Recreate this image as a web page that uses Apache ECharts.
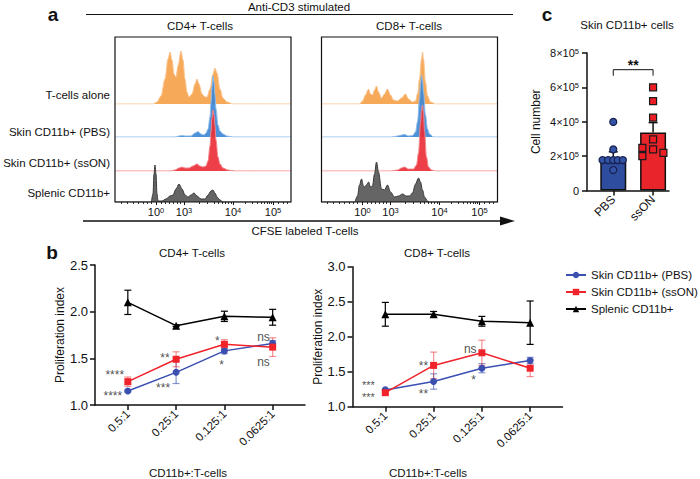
<!DOCTYPE html>
<html>
<head>
<meta charset="utf-8">
<script src="https://cdn.jsdelivr.net/npm/echarts@6/dist/echarts.min.js"></script>
<style>
html, body { margin: 0; padding: 0; background: #fff; }
#main { width: 700px; height: 479px; }
</style>
</head>
<body>
<div id="main"></div>
<script>
var FONT = 'Arial, "Liberation Sans", Helvetica, sans-serif';

// ---- panel a : CFSE histograms (display channel 0-176, height in scaled counts) ----
var rowNames = ['T-cells alone', 'Skin CD11b+ (PBS)', 'Skin CD11b+ (ssON)', 'Splenic CD11b+'];
var decadeChannels = [41, 69, 118, 158];
var decadeExp = ['0', '3', '4', '5'];
var minorChannels = [6, 12, 18, 23, 28, 32, 36, 46, 50, 54, 58, 62, 65, 84, 92, 99, 103, 107, 110, 113, 116, 130, 137, 142, 146, 149, 152, 154, 156, 163, 168, 172];

var cd4Alone = [[0,0],[38,0],[42,2],[46,8],[50,25],[53,45],[55,52],[57,44],[59,30],[61,27],[63,38],[66,53],[68,44],[70,25],[72,12],[74,7],[77,10],[80,20],[82,25],[84,20],[87,10],[90,7],[92,7],[95,15],[98,30],[100,36],[102,31],[105,15],[108,6],[112,2],[118,0],[176,0]];
var cd4Pbs = [[0,0],[60,0],[64,1],[67,1.5],[70,1],[76,1],[80,4],[83,5.5],[86,3],[89,2],[91,4],[93,8],[95,20],[96,35],[97,50],[98,61],[99,55],[100,42],[101,28],[103,12],[105,6],[108,3],[112,1],[118,0],[176,0]];
var cd4Sson = [[0,0],[55,0],[60,1],[64,3],[67,4],[70,3],[74,3],[78,5],[82,7],[85,5],[88,4],[91,5],[93,10],[95,25],[96,40],[97,53],[98,61],[99,56],[100,45],[101,31],[103,14],[105,7],[108,3],[113,1],[120,0],[176,0]];
var cd4Splenic = [[0,0],[36,0],[38,8],[39,28],[40,37],[41,28],[42,8],[43,1],[47,1],[51,3],[55,6],[58,7],[61,13],[64,18],[67,13],[70,7],[73,5],[76,7],[79,9],[82,6],[86,3],[90,3],[93,7],[96,11],[98,12],[100,9],[102,5],[105,2],[108,0],[176,0]];

var cd8Alone = [[0,0],[38,0],[41,3],[44,9],[47,15],[49,10],[51,9],[53,14],[55,18],[57,12],[60,6],[63,10],[66,15],[69,9],[72,4],[76,3],[80,6],[84,10],[87,5],[91,2],[94,3],[96,10],[98,25],[100,45],[101,52],[102,45],[104,22],[106,8],[109,2],[114,0],[176,0]];
var cd8Pbs = [[0,0],[70,0],[76,1],[80,2],[83,2.5],[87,1],[91,1.5],[94,5],[96,15],[98,38],[99,52],[100,62],[101,57],[102,45],[104,22],[106,8],[108,3],[112,0],[176,0]];
var cd8Sson = [[0,0],[70,0],[76,1],[80,3],[83,4],[87,2],[92,2],[95,6],[97,18],[99,48],[100,60],[101,66],[102,58],[103,40],[105,14],[107,4],[110,1],[114,0],[176,0]];
var cd8Splenic = [[0,0],[33,0],[36,6],[38,17],[40,23],[42,16],[43,15],[45,17],[47,20],[49,15],[51,16],[53,28],[55,40],[57,30],[60,13],[63,12],[66,17],[69,10],[73,5],[77,6],[81,8],[85,6],[88,6],[91,9],[94,18],[97,24],[99,20],[101,12],[103,5],[106,1],[108,0],[176,0]];

// ---- panel b : proliferation index (mean, SEM) ----
var ratios = ['0.5:1', '0.25:1', '0.125:1', '0.0625:1'];
var groupNames = ['Skin CD11b+ (PBS)', 'Skin CD11b+ (ssON)', 'Splenic CD11b+'];
var cd4PbsMean = [1.15, 1.35, 1.58, 1.66];
var cd4PbsSem = [0.01, 0.12, 0.03, 0.03];
var cd4SsonMean = [1.25, 1.49, 1.65, 1.62];
var cd4SsonSem = [0.05, 0.08, 0.05, 0.10];
var cd4SplMean = [2.10, 1.85, 1.95, 1.94];
var cd4SplSem = [0.13, 0.01, 0.055, 0.085];
var cd8PbsMean = [1.24, 1.36, 1.55, 1.66];
var cd8PbsSem = [0.01, 0.11, 0.065, 0.045];
var cd8SsonMean = [1.20, 1.59, 1.77, 1.55];
var cd8SsonSem = [0.01, 0.19, 0.18, 0.12];
var cd8SplMean = [2.32, 2.32, 2.22, 2.20];
var cd8SplSem = [0.17, 0.04, 0.07, 0.31];
var cd4Stars = [[-0.27, 1.357, '****'], [-0.31, 1.129, '****'], [0.77, 1.536, '**'], [0.73, 1.214, '***'], [1.855, 1.718, '*'], [1.94, 1.464, '*'], [2.81, 1.729, 'ns'], [2.81, 1.464, 'ns']];
var cd8Stars = [[-0.35, 1.262, '***\n***'], [0.79, 1.62, '**'], [0.79, 1.23, '**'], [1.76, 1.83, 'ns'], [1.83, 1.42, '*']];

// ---- panel c : cell numbers ----
var cGroups = ['PBS', 'ssON'];
var cellMean = [1.92e5, 3.37e5];
var cellSem = [0.33e5, 0.58e5];
var pbsPoints = [[0, 3.99e5], [0, 2.39e5], [-0.27, 1.77e5], [-0.13, 1.77e5], [0, 1.77e5], [0.11, 1.77e5], [0.24, 1.77e5], [0, 1.19e5]];
var ssonPoints = [[0, 6.0e5], [0, 5.2e5], [0, 4.24e5], [0, 2.97e5], [-0.27, 2.48e5], [0, 2.39e5], [0.26, 2.19e5], [-0.27, 2.0e5]];
var sigBracket = 7.03e5;

var chart = echarts.init(document.getElementById('main'), null, { renderer: 'svg' });

var grids = [], xAxes = [], yAxes = [], series = [];

var supRich = {
	b: { fontSize: 11, fontFamily: FONT, color: '#111' },
	s: { fontSize: 7.5, fontFamily: FONT, color: '#111', verticalAlign: 'top' }
};

// histogram panels
var histColors = ['#f6a24c', '#3e88d6', '#ec2f37', '#585858'];
var histLines = ['#f9c590', '#91bce9', '#f2878c', '#3a3a3a'];
var baselines = [104, 137, 171, 202];
var histPanels = [
	{ left: 115, curves: [cd4Alone, cd4Pbs, cd4Sson, cd4Splenic] },
	{ left: 321.5, curves: [cd8Alone, cd8Pbs, cd8Sson, cd8Splenic] }
];

histPanels.forEach(function(p) {
	grids.push({ left: p.left, top: 37, width: 176, height: 165, show: true, borderColor: '#111', borderWidth: 1.2, z: 10 });
	var gi = grids.length - 1;
	xAxes.push({
		gridIndex: gi, type: 'value', min: 0, max: 176, position: 'bottom',
		axisLine: { show: false, onZero: false }, splitLine: { show: false },
		axisTick: { customValues: decadeChannels, length: 3, lineStyle: { color: '#111' } },
		axisLabel: {
			customValues: decadeChannels, margin: 4,
			formatter: function(v) { return '{b|10}{s|' + decadeExp[decadeChannels.indexOf(v)] + '}'; },
			rich: supRich
		}
	});
	xAxes.push({
		gridIndex: gi, type: 'value', min: 0, max: 176, position: 'bottom', offset: 0,
		axisLine: { show: false, onZero: false }, splitLine: { show: false },
		axisTick: { customValues: minorChannels, length: 2, lineStyle: { color: '#333' } },
		axisLabel: { show: false }
	});
	yAxes.push({ gridIndex: gi, type: 'value', min: 0, max: 1, show: false });

	p.curves.forEach(function(curve, r) {
		grids.push({ left: p.left, top: baselines[r] - 70, width: 176, height: 70 });
		var ri = grids.length - 1;
		xAxes.push({ gridIndex: ri, type: 'value', min: 0, max: 176, show: false });
		yAxes.push({ gridIndex: ri, type: 'value', min: 0, max: 70, show: false });
		series.push({
			type: 'line', xAxisIndex: xAxes.length - 1, yAxisIndex: yAxes.length - 1,
			data: curve, smooth: 0.35, smoothMonotone: 'x', symbol: 'none', silent: true, clip: true,
			lineStyle: { color: histLines[r], width: 1 },
			areaStyle: { color: histColors[r], opacity: 0.92 },
			z: 2 + r
		});
	});
});

// panel b
var lineColors = ['#3a4fb0', '#f0222a', '#000000'];
var errColors = ['rgba(58,79,176,0.6)', 'rgba(240,34,42,0.5)', '#000000'];
var symbols = ['circle', 'rect', 'triangle'];
var symSizes = [7, 7, 8];

function errSeries(xi, yi, means, sems, color, capOnly) {
	return {
		type: 'custom', xAxisIndex: xi, yAxisIndex: yi, silent: true, z: 1,
		data: means.map(function(m, i) { return [i, capOnly ? m : m - sems[i], m + sems[i]]; }),
		renderItem: function(params, api) {
			var lo = api.coord([api.value(0), api.value(1)]);
			var hi = api.coord([api.value(0), api.value(2)]);
			var w = capOnly ? 4.5 : 3.5;
			var kids = [
				{ type: 'line', shape: { x1: hi[0], y1: hi[1], x2: lo[0], y2: lo[1] }, style: { stroke: color, lineWidth: capOnly ? 1.5 : 1.2 } },
				{ type: 'line', shape: { x1: hi[0] - w, y1: hi[1], x2: hi[0] + w, y2: hi[1] }, style: { stroke: color, lineWidth: capOnly ? 1.5 : 1.2 } }
			];
			if (!capOnly) {
				kids.push({ type: 'line', shape: { x1: lo[0] - w, y1: lo[1], x2: lo[0] + w, y2: lo[1] }, style: { stroke: color, lineWidth: 1.2 } });
			}
			return { type: 'group', children: kids };
		}
	};
}

var bPanels = [
	{ left: 95, top: 265, max: 2.5, means: [cd4PbsMean, cd4SsonMean, cd4SplMean], sems: [cd4PbsSem, cd4SsonSem, cd4SplSem], stars: cd4Stars },
	{ left: 352.5, top: 266.7, max: 3.0, means: [cd8PbsMean, cd8SsonMean, cd8SplMean], sems: [cd8PbsSem, cd8SsonSem, cd8SplSem], stars: cd8Stars }
];

bPanels.forEach(function(p) {
	grids.push({ left: p.left, top: p.top, width: 210, height: 140 });
	var gi = grids.length - 1;
	xAxes.push({
		gridIndex: gi, type: 'value', min: -0.68, max: 3.67,
		axisLine: { onZero: false, lineStyle: { color: '#111', width: 1.5 } },
		splitLine: { show: false },
		axisTick: { customValues: [0, 1, 2, 3], length: 5, lineStyle: { color: '#111', width: 1.5 } },
		axisLabel: {
			customValues: [0, 1, 2, 3], rotate: 45, margin: 7, fontSize: 11.5, fontFamily: FONT, color: '#111',
			formatter: function(v) { return ratios[Math.round(v)]; }
		}
	});
	yAxes.push({
		gridIndex: gi, type: 'value', min: 1, max: p.max, interval: 0.5,
		name: 'Proliferation index', nameLocation: 'middle', nameGap: 25,
		nameTextStyle: { fontSize: 12, fontFamily: FONT, color: '#111' },
		axisLine: { show: true, onZero: false, lineStyle: { color: '#111', width: 1.5 } },
		splitLine: { show: false },
		axisTick: { show: true, length: 5, lineStyle: { color: '#111', width: 1.5 } },
		axisLabel: { margin: 7, fontSize: 13, fontFamily: FONT, color: '#111', formatter: function(v) { return v.toFixed(1); } }
	});
	var xi = xAxes.length - 1, yi = yAxes.length - 1;
	p.means.forEach(function(m, k) {
		series.push(errSeries(xi, yi, m, p.sems[k], errColors[k], false));
	});
	p.means.forEach(function(m, k) {
		series.push({
			type: 'line', name: groupNames[k], xAxisIndex: xi, yAxisIndex: yi,
			data: m.map(function(v, i) { return [i, v]; }),
			symbol: symbols[k], symbolSize: symSizes[k], showAllSymbol: true,
			lineStyle: { color: lineColors[k], width: 1.5 },
			itemStyle: { color: lineColors[k] },
			z: 3
		});
	});
	series.push({
		type: 'scatter', xAxisIndex: xi, yAxisIndex: yi, symbolSize: 0, silent: true, z: 4,
		data: p.stars.map(function(s) {
			var two = s[2].indexOf('\n') >= 0;
			return {
				name: s[2], value: [s[0], s[1]],
				label: { fontSize: two ? 11 : 12, lineHeight: two ? 12 : 8, offset: [0, s[2].indexOf('*') >= 0 ? 3 : 0] }
			};
		}),
		label: { show: true, position: 'inside', formatter: '{b}', fontSize: 12, lineHeight: 8, fontFamily: FONT, color: '#222' }
	});
});

// panel c
grids.push({ left: 587, top: 53, width: 82, height: 137.5 });
var cg = grids.length - 1;
xAxes.push({
	gridIndex: cg, type: 'value', min: -0.66, max: 1.4,
	axisLine: { onZero: false, lineStyle: { color: '#111', width: 1.5 } },
	splitLine: { show: false },
	axisTick: { customValues: [0, 1], length: 5, lineStyle: { color: '#111', width: 1.5 } },
	axisLabel: {
		customValues: [0, 1], rotate: 45, margin: 7, fontSize: 12, fontFamily: FONT, color: '#111',
		formatter: function(v) { return cGroups[Math.round(v)]; }
	}
});
yAxes.push({
	gridIndex: cg, type: 'value', min: 0, max: 8e5, interval: 2e5,
	name: 'Cell number', nameLocation: 'middle', nameGap: 45,
	nameTextStyle: { fontSize: 12, fontFamily: FONT, color: '#111' },
	axisLine: { show: true, onZero: false, lineStyle: { color: '#111', width: 1.5 } },
	splitLine: { show: false },
	axisTick: { show: true, length: 5, lineStyle: { color: '#111', width: 1.5 } },
	axisLabel: {
		margin: 8, rich: supRich,
		formatter: function(v) { return v === 0 ? '{b|0}' : '{b|' + (v / 1e5) + '×10}{s|5}'; }
	}
});
var cxi = xAxes.length - 1, cyi = yAxes.length - 1;
series.push({
	type: 'bar', xAxisIndex: cxi, yAxisIndex: cyi, barWidth: 26, silent: true, z: 2,
	data: cellMean.map(function(v, i) {
		return { value: [i, v], itemStyle: { color: i === 0 ? '#2f4d9e' : '#e9242b', borderColor: '#111', borderWidth: 1.5 } };
	})
});
series.push(errSeries(cxi, cyi, cellMean, cellSem, '#111', true));
series.push({
	type: 'scatter', xAxisIndex: cxi, yAxisIndex: cyi, symbol: 'circle', symbolSize: 7, silent: true, z: 5,
	data: pbsPoints, itemStyle: { color: '#3353a6', borderColor: '#16204d', borderWidth: 1.2, opacity: 1 }
});
series.push({
	type: 'scatter', xAxisIndex: cxi, yAxisIndex: cyi, symbol: 'rect', symbolSize: 7, silent: true, z: 5,
	data: ssonPoints.map(function(p) { return [p[0] + 1, p[1]]; }),
	itemStyle: { color: '#ee1d25', borderColor: '#1a1a1a', borderWidth: 1.2, opacity: 1 }
});
series.push({
	type: 'custom', xAxisIndex: cxi, yAxisIndex: cyi, silent: true, z: 5,
	data: [[0, 1, sigBracket]],
	renderItem: function(params, api) {
		var a = api.coord([api.value(0), api.value(2)]);
		var b = api.coord([api.value(1), api.value(2)]);
		return {
			type: 'group', children: [
				{ type: 'polyline', shape: { points: [[a[0], a[1] + 6], a, b, [b[0], b[1] + 6]] }, style: { stroke: '#111', lineWidth: 1, fill: null } },
				{ type: 'text', x: (a[0] + b[0]) / 2, y: a[1] - 5, style: { text: '**', font: 'bold 14px ' + FONT, fill: '#111', align: 'center', verticalAlign: 'middle', textAlign: 'center', textVerticalAlign: 'middle' } }
			]
		};
	}
});

// free text and decorations
function txt(x, y, s, size, align, bold) {
	return {
		type: 'text', x: x, y: y, silent: true,
		style: {
			text: s, font: (bold ? 'bold ' : '') + size + 'px ' + FONT, fill: '#111',
			align: align, verticalAlign: 'middle', textAlign: align, textVerticalAlign: 'middle'
		}
	};
}
var graphics = [
	txt(53, 14, 'a', 19, 'center', true),
	txt(52, 252, 'b', 19, 'center', true),
	txt(547, 14, 'c', 19, 'center', true),
	txt(299, 7, 'Anti-CD3 stimulated', 11.5, 'center'),
	{ type: 'line', silent: true, shape: { x1: 86, y1: 14.5, x2: 513, y2: 14.5 }, style: { stroke: '#111', lineWidth: 1 } },
	txt(200, 26, 'CD4+ T-cells', 11.5, 'center'),
	txt(409, 26, 'CD8+ T-cells', 11.5, 'center'),
	txt(110, 95, rowNames[0], 11.5, 'right'),
	txt(110, 131.7, rowNames[1], 11.5, 'right'),
	txt(110, 163.3, rowNames[2], 11.5, 'right'),
	txt(110, 192.7, rowNames[3], 11.5, 'right'),
	{ type: 'line', silent: true, shape: { x1: 83, y1: 221, x2: 503, y2: 221 }, style: { stroke: '#111', lineWidth: 1.3 } },
	{ type: 'polygon', silent: true, shape: { points: [[500, 216.5], [515, 221], [500, 225.5]] }, style: { fill: '#111' } },
	txt(305, 231, 'CFSE labeled T-cells', 11.5, 'center'),
	txt(192, 253, 'CD4+ T-cells', 11.5, 'center'),
	txt(437, 253, 'CD8+ T-cells', 11.5, 'center'),
	txt(188, 473, 'CD11b+:T-cells', 11.5, 'center'),
	txt(428, 473, 'CD11b+:T-cells', 11.5, 'center'),
	txt(627, 25, 'Skin CD11b+ cells', 11.5, 'center')
];

chart.setOption({
	backgroundColor: '#fff',
	animation: false,
	textStyle: { fontFamily: FONT },
	grid: grids,
	xAxis: xAxes,
	yAxis: yAxes,
	legend: {
		data: groupNames, orient: 'vertical', left: 565, top: 269,
		itemWidth: 20, itemHeight: 8, itemGap: 5, padding: 0,
		textStyle: { fontSize: 11.5, fontFamily: FONT, color: '#111' }
	},
	graphic: { elements: graphics },
	series: series
});
</script>
</body>
</html>
